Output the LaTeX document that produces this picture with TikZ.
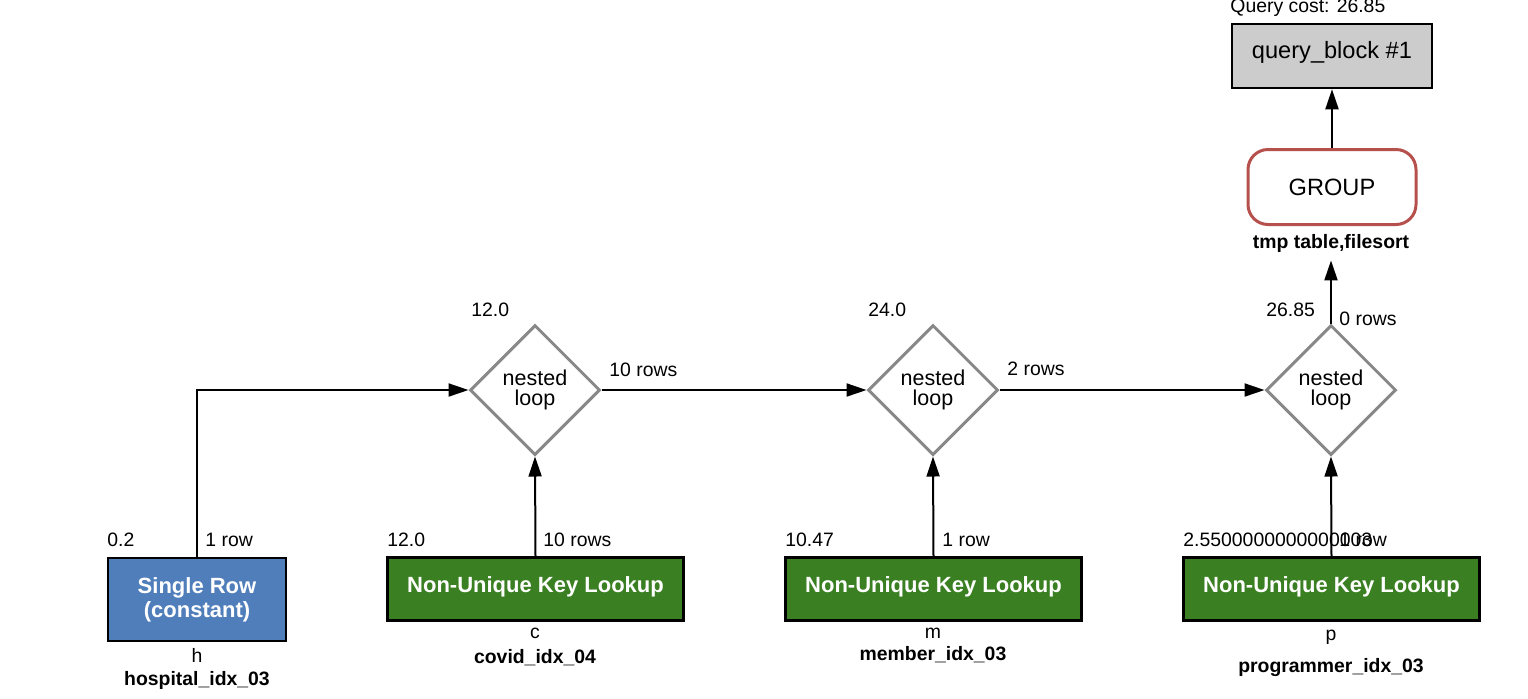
\documentclass[tikz,border=0pt]{standalone}
\usepackage{fontspec}
\setmainfont{Liberation Sans}
\usetikzlibrary{shapes.geometric,arrows.meta}
\definecolor{srblue}{HTML}{4F7EBB}
\definecolor{nkgreen}{HTML}{3A7F22}
\definecolor{qbgray}{HTML}{CCCCCC}
\definecolor{grpred}{HTML}{B5504D}
\definecolor{dgray}{HTML}{888888}
\begin{document}
\begin{tikzpicture}[x=0.5pt,y=-0.5pt,
  lbl/.style={inner sep=0pt, font=\fontsize{9.7}{11}\selectfont},
  blbl/.style={inner sep=0pt, font=\fontsize{9.7}{11}\selectfont\bfseries},
  arr/.style={line width=1pt, -{Triangle[length=10pt,width=6.5pt]}},
  nloop/.style={shape=diamond, draw=dgray, line width=1.5pt, fill=white,
    minimum width=65pt, minimum height=65pt, inner sep=0pt, align=center,
    font=\fontsize{10.75}{10}\selectfont},
  nkbox/.style={draw=black, line width=1.25pt, fill=nkgreen, text=white,
    minimum width=148pt, minimum height=31.5pt, inner sep=0pt,
    text height=8pt, text depth=5pt, font=\fontsize{11}{12}\selectfont\bfseries},
  srbox/.style={draw=black, line width=1.25pt, fill=srblue, text=white,
    minimum width=89pt, minimum height=41.5pt, inner sep=0pt, align=center,
    font=\fontsize{11}{12}\selectfont\bfseries},
  qbbox/.style={draw=black, line width=1.25pt, fill=qbgray,
    minimum width=100pt, minimum height=32pt, inner sep=0pt,
    text height=7pt, text depth=5pt, font=\fontsize{11.8}{13}\selectfont},
  grpbox/.style={draw=grpred, line width=1.5pt, fill=white, rounded corners=10pt,
    minimum width=84pt, minimum height=37.5pt, inner sep=0pt,
    font=\fontsize{11.8}{13}\selectfont}
]
\useasboundingbox (0,0) rectangle (1528,698);

% top
\node[lbl, anchor=base west] (qcost) at (1230,12) {Query cost: 26.85};
\node[qbbox] (qb) at (1332,56) {query\_block \#1};
\node[grpbox] (grp) at (1332,187) {GROUP};
\node[blbl, anchor=base, inner ysep=4pt] (grpnote) at (1331,248) {tmp table,filesort};

% diamonds
\node[nloop] (d1) at (535,390) {nested\\loop};
\node[nloop] (d2) at (933,390) {nested\\loop};
\node[nloop] (d3) at (1331,390) {nested\\loop};

\node[lbl, anchor=base west] (d1c) at (471,316) {12.0};
\node[lbl, anchor=base west] (d2c) at (868,316) {24.0};
\node[lbl, anchor=base west] (d3c) at (1266,316) {26.85};
\node[lbl, anchor=base west] (d3r) at (1339,325) {0 rows};
\node[lbl, anchor=base west] (e12) at (609,376) {10 rows};
\node[lbl, anchor=base west] (e23) at (1007,375) {2 rows};

% bottom boxes
\node[srbox] (sr) at (197,599.5) {Single Row\\(constant)};
\node[nkbox] (nk1) at (535.5,589) {Non-Unique Key Lookup};
\node[nkbox] (nk2) at (933.5,589) {Non-Unique Key Lookup};
\node[nkbox] (nk3) at (1331.5,589) {Non-Unique Key Lookup};

\node[lbl, anchor=base west] (src) at (107,546) {0.2};
\node[lbl, anchor=base west] (srr) at (205,546) {1 row};
\node[lbl, anchor=base west] (nk1c) at (387,546) {12.0};
\node[lbl, anchor=base west] (nk1r) at (543,546) {10 rows};
\node[lbl, anchor=base west] (nk2c) at (785,546) {10.47};
\node[lbl, anchor=base west] (nk2r) at (942,546) {1 row};
\node[lbl, anchor=base west] (nk3c) at (1183,546) {2.5500000000000003};
\node[lbl, anchor=base west] (nk3r) at (1339,546) {1 row};

\node[lbl, anchor=base] (srt) at (197,662) {h};
\node[blbl, anchor=base] (sri) at (197,685) {hospital\_idx\_03};
\node[lbl, anchor=base] (nk1t) at (535,638) {c};
\node[blbl, anchor=base] (nk1i) at (535,663) {covid\_idx\_04};
\node[lbl, anchor=base] (nk2t) at (933,638) {m};
\node[blbl, anchor=base] (nk2i) at (933,660) {member\_idx\_03};
\node[lbl, anchor=base] (nk3t) at (1331,640) {p};
\node[blbl, anchor=base] (nk3i) at (1331,672) {programmer\_idx\_03};

% connectors
\draw[arr] (grp.north) -- (qb.south);
\draw[arr] (d3.north) -- (grpnote.south);
\draw[arr] (sr.north) |- (d1.west);
\draw[arr] (nk1.north) -- (d1.south);
\draw[arr] (d1.east) -- (d2.west);
\draw[arr] (nk2.north) -- (d2.south);
\draw[arr] (d2.east) -- (d3.west);
\draw[arr] (nk3.north) -- (d3.south);
\end{tikzpicture}
\end{document}
